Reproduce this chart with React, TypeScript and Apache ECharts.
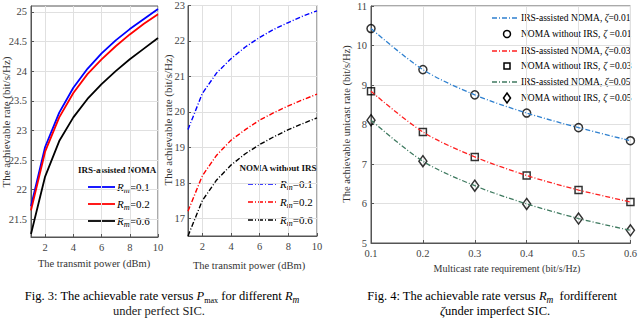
import { useEffect, useRef } from 'react';
import * as echarts from 'echarts';

// ---------- data ----------
const powerX = [1, 2, 3, 4, 5, 6, 7, 8, 9, 10];
const irsRm01 = [21.72, 22.72, 23.3, 23.72, 24.04, 24.3, 24.52, 24.71, 24.88, 25.05];
const irsRm02 = [21.65, 22.64, 23.22, 23.63, 23.95, 24.2, 24.42, 24.62, 24.8, 24.96];
const irsRm06 = [21.25, 22.22, 22.82, 23.22, 23.53, 23.78, 24.0, 24.2, 24.38, 24.56];
const nomaRm01 = [19.5, 20.52, 21.1, 21.5, 21.83, 22.1, 22.33, 22.52, 22.7, 22.85];
const nomaRm02 = [17.2, 18.2, 18.78, 19.2, 19.5, 19.77, 19.98, 20.17, 20.34, 20.5];
const nomaRm06 = [16.5, 17.5, 18.08, 18.5, 18.82, 19.08, 19.3, 19.5, 19.67, 19.83];

const rmX = [0.1, 0.2, 0.3, 0.4, 0.5, 0.6];
const irsZeta001 = [10.43, 9.39, 8.75, 8.29, 7.92, 7.59];
const nomaZeta001 = [10.43, 9.39, 8.75, 8.29, 7.92, 7.59];
const irsZeta003 = [8.84, 7.81, 7.18, 6.71, 6.34, 6.04];
const nomaZeta003 = [8.84, 7.81, 7.18, 6.71, 6.34, 6.04];
const irsZeta005 = [8.11, 7.07, 6.45, 5.99, 5.62, 5.32];
const nomaZeta005 = [8.11, 7.07, 6.45, 5.99, 5.62, 5.32];

const fig3XTicks = [2, 4, 6, 8, 10];
const fig3aYTicks = [21.5, 22, 22.5, 23, 23.5, 24, 24.5, 25];
const fig3bYTicks = [17, 18, 19, 20, 21, 22, 23];
const fig4XTicks = [0.1, 0.2, 0.3, 0.4, 0.5, 0.6];
const fig4YTicks = [5, 6, 7, 8, 9, 10, 11];

const rmLabels = ['0.1', '0.2', '0.6'];
const zetaLabels = ['0.01', '0.03', '0.05'];

const SERIF = "'Liberation Serif', 'Times New Roman', serif";
const AX = '#555';
const GRIDC = '#e0e0e0';

const pairs = (xs: number[], ys: number[]) => xs.map((x, i) => [x, ys[i]]);

const mkAxis = (gridIndex: number, min: number, max: number, ticks: number[], margin = 5) => ({
  type: 'value',
  gridIndex,
  min,
  max,
  axisLine: { show: true, onZero: false, lineStyle: { color: AX, width: 1 } },
  axisTick: { show: true, inside: true, length: 3, customValues: ticks, lineStyle: { color: AX } },
  axisLabel: { customValues: ticks, fontFamily: SERIF, fontSize: 10.5, color: '#444', margin },
  splitLine: { show: true, lineStyle: { color: GRIDC, width: 1 } },
});

const richBase = (fs: number) => ({
  n: { fontFamily: SERIF, fontSize: fs, color: '#222', lineHeight: fs + 4, verticalAlign: 'middle' },
  i: { fontFamily: SERIF, fontSize: fs, fontStyle: 'italic', color: '#222', lineHeight: fs + 4, verticalAlign: 'middle' },
  s: { fontFamily: SERIF, fontSize: fs * 0.65, color: '#222', lineHeight: (fs + 4) / 2, verticalAlign: 'bottom' },
  si: { fontFamily: SERIF, fontSize: fs * 0.75, fontStyle: 'italic', color: '#222', lineHeight: (fs + 4) / 2, verticalAlign: 'bottom' },
});

export default function App() {
  const ref = useRef<HTMLDivElement>(null);
  useEffect(() => {
    if (!ref.current) return;
    const chart = echarts.init(ref.current, null, { renderer: 'svg' });

    const fig3Colors = ['#0000ff', '#ff0000', '#000000'];
    const fig4Colors = ['#2f80cf', '#ff2020', '#3f7a60'];
    const dashDot = [5, 2, 1, 2];

    const graphic: any[] = [];
    const yTitle = (x: number, y: number, text: string, fs: number) => ({
      type: 'text', x, y, rotation: Math.PI / 2,
      style: { text, fontFamily: SERIF, fontSize: fs, fill: '#333', align: 'center', verticalAlign: 'middle' },
    });
    const xTitle = (x: number, y: number, text: string, fs: number) => ({
      type: 'text', x, y,
      style: { text, fontFamily: SERIF, fontSize: fs, fill: '#333', align: 'center', verticalAlign: 'middle' },
    });
    graphic.push(yTitle(6, 122, 'The achievable rate (bit/s/Hz)', 11));
    graphic.push(yTitle(168, 120, 'The achievable rate (bit/s/Hz)', 11));
    graphic.push(yTitle(346, 124, 'The achievable unicast rate (bit/s/Hz)', 10.5));
    graphic.push(xTitle(94, 263, 'The transmit power (dBm)', 10.5));
    graphic.push(xTitle(249, 265, 'The transmit power (dBm)', 10.5));
    graphic.push(xTitle(507, 268, 'Multicast rate requirement (bit/s/Hz)', 10));

    // Fig 3a legend
    graphic.push({ type: 'text', x: 117, y: 170, style: { text: 'IRS-assisted NOMA', fontFamily: SERIF, fontSize: 9, fontWeight: 'bold', fill: '#111', align: 'center', verticalAlign: 'middle' } });
    [187, 204, 221].forEach((yy, k) => {
      graphic.push({ type: 'line', shape: { x1: 88, y1: yy, x2: 115, y2: yy }, style: { stroke: fig3Colors[k], lineWidth: 1.8 } });
      graphic.push({ type: 'text', x: 117, y: yy, style: { text: '{i|R}{si|m}{n|=' + rmLabels[k] + '}', rich: richBase(11), align: 'left', verticalAlign: 'middle' } });
    });
    // Fig 3b legend
    graphic.push({ type: 'text', x: 278, y: 168, style: { text: 'NOMA without IRS', fontFamily: SERIF, fontSize: 9, fontWeight: 'bold', fill: '#111', align: 'center', verticalAlign: 'middle' } });
    [184, 202, 220].forEach((yy, k) => {
      graphic.push({ type: 'line', shape: { x1: 248, y1: yy, x2: 278, y2: yy }, style: { stroke: fig3Colors[k], lineWidth: 1.4, lineDash: dashDot } });
      graphic.push({ type: 'text', x: 280, y: yy, style: { text: '{i|R}{si|m}{n|=' + rmLabels[k] + '}', rich: richBase(11), align: 'left', verticalAlign: 'middle' } });
    });
    // Fig 4 legend
    const lgY = [18, 34, 51, 66, 82, 98];
    for (let k = 0; k < 3; k++) {
      const yl = lgY[2 * k];
      const ym = lgY[2 * k + 1];
      graphic.push({ type: 'line', shape: { x1: 492, y1: yl, x2: 519, y2: yl }, style: { stroke: fig4Colors[k], lineWidth: 1.3, lineDash: dashDot } });
      graphic.push({ type: 'text', x: 521, y: yl, style: { text: '{n|IRS-assisted NOMA, }{i|ζ}{n|=' + zetaLabels[k] + '}', rich: richBase(9.5), align: 'left', verticalAlign: 'middle' } });
      if (k === 0) graphic.push({ type: 'circle', shape: { cx: 507, cy: ym, r: 3.5 }, style: { fill: 'none', stroke: '#000', lineWidth: 1.5 } });
      if (k === 1) graphic.push({ type: 'rect', shape: { x: 504, y: ym - 3, width: 6, height: 6 }, style: { fill: 'none', stroke: '#000', lineWidth: 1.5 } });
      if (k === 2) graphic.push({ type: 'polygon', shape: { points: [[507, ym - 5], [510.5, ym], [507, ym + 5], [503.5, ym]] }, style: { fill: 'none', stroke: '#000', lineWidth: 1.5 } });
      graphic.push({ type: 'text', x: 521, y: ym, style: { text: '{n|NOMA without IRS, }{i|ζ}{n| =' + zetaLabels[k] + '}', rich: richBase(9.5), align: 'left', verticalAlign: 'middle' } });
    }
    // captions
    graphic.push({ type: 'text', x: 162, y: 296, style: { text: '{n|Fig. 3: The achievable rate versus }{i|P}{s|max}{n| for different }{i|R}{si|m}', rich: richBase(12.5), align: 'center', verticalAlign: 'middle' } });
    graphic.push({ type: 'text', x: 159, y: 311, style: { text: 'under perfect SIC.', fontFamily: SERIF, fontSize: 12.5, fill: '#222', align: 'center', verticalAlign: 'middle' } });
    graphic.push({ type: 'text', x: 492, y: 296, style: { text: '{n|Fig. 4: The achievable rate versus }{i|R}{si|m}{n|  fordifferent}', rich: richBase(12.5), align: 'center', verticalAlign: 'middle' } });
    graphic.push({ type: 'text', x: 495, y: 311, style: { text: '{i|ζ}{n|under imperfect SIC.}', rich: richBase(12.5), align: 'center', verticalAlign: 'middle' } });

    const markerStyle = { color: 'rgba(255,255,255,0)', borderColor: '#000', borderWidth: 1.5 };

    chart.setOption({
      animation: false,
      backgroundColor: '#fff',
      grid: [
        { left: 31, top: 6, width: 127, height: 231, show: true, borderColor: AX, borderWidth: 1, backgroundColor: 'transparent' },
        { left: 188, top: 5, width: 129, height: 231, show: true, borderColor: AX, borderWidth: 1, backgroundColor: 'transparent' },
        { left: 371, top: 6, width: 262, height: 237, show: true, borderColor: AX, borderWidth: 1, backgroundColor: 'transparent' },
      ],
      xAxis: [
        mkAxis(0, 1, 10, fig3XTicks),
        mkAxis(1, 1, 10, fig3XTicks),
        mkAxis(2, 0.1, 0.6, fig4XTicks),
      ],
      yAxis: [
        mkAxis(0, 21.2, 25.1, fig3aYTicks, 4),
        mkAxis(1, 16.5, 23, fig3bYTicks, 3),
        mkAxis(2, 5, 11, fig4YTicks, 4),
      ],
      series: [
        ...[irsRm01, irsRm02, irsRm06].map((d, k) => ({
          type: 'line', xAxisIndex: 0, yAxisIndex: 0, data: pairs(powerX, d), showSymbol: false,
          lineStyle: { color: fig3Colors[k], width: 1.8 }, itemStyle: { color: fig3Colors[k] },
        })),
        ...[nomaRm01, nomaRm02, nomaRm06].map((d, k) => ({
          type: 'line', xAxisIndex: 1, yAxisIndex: 1, data: pairs(powerX, d), showSymbol: false,
          lineStyle: { color: fig3Colors[k], width: 1.4, type: dashDot }, itemStyle: { color: fig3Colors[k] },
        })),
        ...[irsZeta001, irsZeta003, irsZeta005].map((d, k) => ({
          type: 'line', xAxisIndex: 2, yAxisIndex: 2, data: pairs(rmX, d), showSymbol: false, smooth: 0.3,
          lineStyle: { color: fig4Colors[k], width: 1.3, type: dashDot }, itemStyle: { color: fig4Colors[k] },
        })),
        { type: 'scatter', xAxisIndex: 2, yAxisIndex: 2, data: pairs(rmX, nomaZeta001), symbol: 'circle', symbolSize: 8, itemStyle: markerStyle },
        { type: 'scatter', xAxisIndex: 2, yAxisIndex: 2, data: pairs(rmX, nomaZeta003), symbol: 'rect', symbolSize: 7, itemStyle: markerStyle },
        { type: 'scatter', xAxisIndex: 2, yAxisIndex: 2, data: pairs(rmX, nomaZeta005), symbol: 'diamond', symbolSize: [8, 11], itemStyle: markerStyle },
      ],
      graphic,
    });
    return () => chart.dispose();
  }, []);
  return <div ref={ref} style={{ position: 'fixed', left: 0, top: 0, width: 640, height: 319 }} />;
}
